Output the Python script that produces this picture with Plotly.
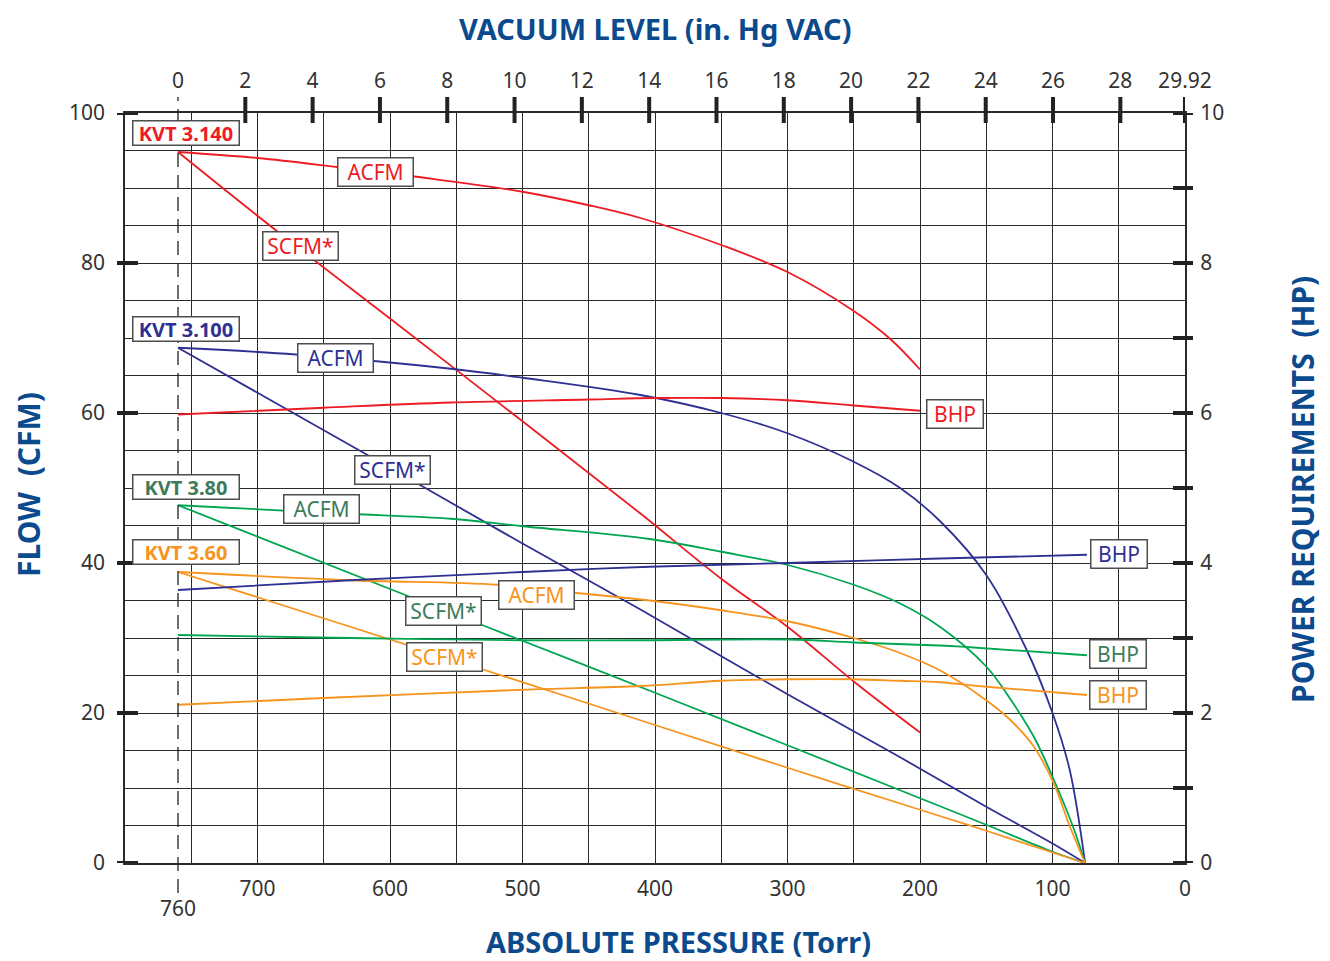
import plotly.graph_objects as go

# ---------------- data (pressure in Torr, flow in CFM, power in HP) ----------------
red_acfm_p = [760, 700, 640, 580, 500, 450, 411, 350, 300, 250, 222, 200]
red_acfm_v = [94.8, 94.0, 92.8, 91.5, 89.5, 87.7, 86.0, 82.4, 78.8, 73.6, 69.8, 65.8]
red_scfm_p = [760, 685, 600, 500, 411, 350, 300, 250, 200]
red_scfm_v = [94.8, 84.2, 72.6, 58.9, 46.6, 37.9, 31.5, 24.2, 17.4]
red_bhp_p = [760, 650, 554, 450, 400, 350, 300, 250, 200]
red_bhp_v = [5.98, 6.07, 6.14, 6.18, 6.20, 6.20, 6.17, 6.10, 6.03]

blue_acfm_p = [760, 671, 554, 500, 411, 350, 300, 250, 215, 185, 150, 120, 100, 87, 75.4]
blue_acfm_v = [68.7, 67.8, 65.9, 64.7, 62.4, 60.0, 57.3, 53.5, 50.0, 45.6, 38.4, 28.6, 20.0, 12.4, 0]
blue_scfm_p = [760, 600, 500, 411, 300, 215, 150, 100, 75.4]
blue_scfm_v = [68.7, 52.7, 42.6, 33.8, 22.5, 14.1, 7.5, 2.6, 0]
blue_bhp_p = [760, 630, 500, 404, 300, 185, 74]
blue_bhp_v = [3.64, 3.77, 3.88, 3.95, 4.00, 4.06, 4.11]

green_acfm_p = [760, 637, 554, 500, 404, 350, 299, 250, 215, 185, 150, 132, 114, 99, 84, 75.4]
green_acfm_v = [47.7, 46.6, 45.9, 44.9, 43.2, 41.5, 39.7, 37.1, 34.6, 31.5, 26.2, 21.9, 16.8, 11.1, 4.6, 0]
green_scfm_p = [760, 588, 530, 400, 300, 215, 150, 100, 75.4]
green_scfm_v = [47.7, 35.7, 31.7, 22.7, 15.7, 9.7, 5.1, 1.5, 0]
green_bhp_p = [760, 630, 500, 411, 299, 250, 185, 165, 74]
green_bhp_v = [3.04, 3.00, 2.97, 2.97, 2.98, 2.94, 2.90, 2.88, 2.77]

orange_acfm_p = [760, 630, 519, 459, 404, 350, 299, 250, 215, 183, 150, 132, 114, 99, 87, 75.4]
orange_acfm_v = [38.8, 37.7, 37.1, 36.0, 35.0, 33.7, 32.2, 30.0, 28.0, 25.5, 21.7, 19.1, 15.5, 10.6, 4.9, 0]
orange_scfm_p = [760, 630, 528, 400, 300, 200, 150, 100, 75.4]
orange_scfm_v = [38.8, 31.5, 25.7, 18.4, 12.7, 7.1, 4.3, 1.4, 0]
orange_bhp_p = [760, 650, 500, 411, 350, 300, 250, 215, 185, 150, 74]
orange_bhp_v = [2.11, 2.20, 2.31, 2.36, 2.43, 2.45, 2.45, 2.43, 2.41, 2.35, 2.24]

bottom_ticks = [700, 600, 500, 400, 300, 200, 100, 0]
vac_ticks = [0, 2, 4, 6, 8, 10, 12, 14, 16, 18, 20, 22, 24, 26, 28, 29.92]
vac_labels = ["0", "2", "4", "6", "8", "10", "12", "14", "16", "18", "20", "22", "24", "26", "28", "29.92"]
flow_ticks = [0, 20, 40, 60, 80, 100]
hp_ticks = [0, 2, 4, 6, 8, 10]

model_labels = [
    ("KVT 3.140", 753.6, 97.3, "#ed1c24"),
    ("KVT 3.100", 753.6, 71.2, "#2e3192"),
    ("KVT 3.80", 753.6, 50.1, "#3e7b5a"),
    ("KVT 3.60", 753.6, 41.5, "#f7941d"),
]
curve_labels = [
    ("ACFM", 611, 92.1, "y", "#ed1c24", 72),
    ("SCFM*", 667.6, 82.3, "y", "#ed1c24", 72),
    ("BHP", 173.5, 5.99, "y2", "#ed1c24", 53),
    ("ACFM", 641, 67.3, "y", "#2e3192", 72),
    ("SCFM*", 598, 52.4, "y", "#2e3192", 72),
    ("BHP", 49.8, 4.12, "y2", "#2e3192", 53),
    ("ACFM", 651.7, 47.2, "y", "#3e7b5a", 72),
    ("SCFM*", 559.7, 33.6, "y", "#3e7b5a", 72),
    ("BHP", 50.5, 2.79, "y2", "#3e7b5a", 53),
    ("ACFM", 489.6, 35.7, "y", "#f7941d", 72),
    ("SCFM*", 559, 27.5, "y", "#f7941d", 72),
    ("BHP", 50.5, 2.24, "y2", "#f7941d", 53),
]

RED, BLUE, GREEN, ORANGE = "#ed1c24", "#2e3192", "#00a651", "#f7941d"
TITLE = "#0b4a8c"
TICKC = "#333333"
GRID = "#2a2a2a"
FONT = "Noto Sans"

fig = go.Figure()

def add(p, v, color, yaxis="y"):
    fig.add_trace(go.Scatter(x=p, y=v, mode="lines", yaxis=yaxis,
                             line=dict(color=color, width=1.8, shape="spline", smoothing=1.0),
                             hoverinfo="skip", showlegend=False))

add(red_acfm_p, red_acfm_v, RED)
add(red_scfm_p, red_scfm_v, RED)
add(red_bhp_p, red_bhp_v, RED, "y2")
add(blue_acfm_p, blue_acfm_v, BLUE)
add(blue_scfm_p, blue_scfm_v, BLUE)
add(blue_bhp_p, blue_bhp_v, BLUE, "y2")
add(green_acfm_p, green_acfm_v, GREEN)
add(green_scfm_p, green_scfm_v, GREEN)
add(green_bhp_p, green_bhp_v, GREEN, "y2")
add(orange_acfm_p, orange_acfm_v, ORANGE)
add(orange_scfm_p, orange_scfm_v, ORANGE)
add(orange_bhp_p, orange_bhp_v, ORANGE, "y2")

fig.add_trace(go.Scatter(x=[800, 0], y=[None, None], xaxis="x2", showlegend=False, hoverinfo="skip"))

vac_pos = [760 - v * 25.4 for v in vac_ticks]
vgrid = list(range(750, -1, -50))
xtext = [str(t) if t in bottom_ticks else "" for t in vgrid]

fig.update_layout(
    width=1322, height=961,
    margin=dict(l=117, r=145, t=105, b=106),
    plot_bgcolor="white", paper_bgcolor="white",
    showlegend=False,
    font=dict(family=FONT, color=TICKC, size=20),
    xaxis=dict(range=[800, 0], tickvals=vgrid, ticktext=xtext,
               showgrid=True, gridcolor=GRID, gridwidth=1.2,
               ticks="outside", ticklen=6, tickcolor="rgba(0,0,0,0)",
               showline=True, linecolor=GRID, linewidth=1.5, mirror=True,
               zeroline=False, tickfont=dict(size=21, color=TICKC)),
    xaxis2=dict(overlaying="x", side="top", range=[800, 0], tickvals=vac_pos, ticktext=vac_labels,
                showgrid=False, ticks="outside", ticklen=16, tickcolor="rgba(0,0,0,0)",
                zeroline=False, tickfont=dict(size=21, color=TICKC)),
    yaxis=dict(range=[0, 100], tickvals=list(range(0, 101, 5)),
               ticktext=[str(t) if t in flow_ticks else "" for t in range(0, 101, 5)],
               showgrid=True, gridcolor=GRID, gridwidth=1.2,
               ticks="outside", ticklen=14, tickcolor="rgba(0,0,0,0)",
               showline=True, linecolor=GRID, linewidth=1.5, mirror=True,
               zeroline=False, tickfont=dict(size=21, color=TICKC)),
    yaxis2=dict(overlaying="y", side="right", range=[0, 10], tickvals=hp_ticks,
                showgrid=False, ticks="outside", ticklen=10, tickcolor="rgba(0,0,0,0)",
                zeroline=False, tickfont=dict(size=21, color=TICKC)),
)

shapes = []
W = 1060.0
H = 750.0
for v in flow_ticks:
    shapes.append(dict(type="line", xref="paper", yref="y", x0=-8 / W, x1=13 / W,
                       y0=v, y1=v, line=dict(color="#222", width=4)))
for h in range(0, 11):
    shapes.append(dict(type="line", xref="paper", yref="y2", x0=(1048) / W, x1=(1068) / W,
                       y0=h, y1=h, line=dict(color="#222", width=4)))
for p, v in zip(vac_pos, vac_ticks):
    if v == 0:
        continue
    shapes.append(dict(type="line", xref="x", yref="paper", x0=p, x1=p,
                       y0=-10 / H + 1, y1=16 / H + 1, line=dict(color="#222", width=4)))
shapes.append(dict(type="line", xref="x", yref="paper", x0=760, x1=760,
                   y0=-30 / H, y1=1 + 16 / H,
                   line=dict(color="#222", width=1.3, dash="14px,8px")))
fig.update_layout(shapes=shapes)

ann = []
for text, p, v, col in model_labels:
    ann.append(dict(x=p, y=v, xref="x", yref="y", xanchor="center", yanchor="middle",
                    text="<b>" + text + "</b>", showarrow=False,
                    font=dict(family=FONT, size=20, color=col), bgcolor="white",
                    bordercolor="#4d4d4d", borderwidth=1.5, borderpad=1, width=103, height=21))
for text, p, v, ax, col, w in curve_labels:
    ann.append(dict(x=p, y=v, xref="x", yref=ax, xanchor="center", yanchor="middle",
                    text=text, showarrow=False,
                    font=dict(family=FONT, size=21, color=col), bgcolor="white",
                    bordercolor="#4d4d4d", borderwidth=1.5, borderpad=1, width=w, height=25))
ann.append(dict(x=760, y=-45 / H, xref="x", yref="paper", xanchor="center", yanchor="middle",
                text="760", showarrow=False, font=dict(family=FONT, size=21, color=TICKC)))
ann.append(dict(x=0.5, y=1 + 84 / H, xref="paper", yref="paper", xanchor="center", yanchor="middle",
                text="<b>VACUUM LEVEL (in. Hg VAC)</b>",
                showarrow=False, font=dict(family=FONT, size=29, color=TITLE)))
ann.append(dict(x=553 / W, y=-78 / H, xref="paper", yref="paper", xanchor="center", yanchor="middle",
                text="<b>ABSOLUTE PRESSURE (Torr)</b>", showarrow=False,
                font=dict(family=FONT, size=29, color=TITLE)))
ann.append(dict(x=-97 / W, y=378 / H, xref="paper", yref="paper", xanchor="center", yanchor="middle",
                text="<b>FLOW  (CFM)</b>", textangle=-90, showarrow=False,
                font=dict(family=FONT, size=30, color=TITLE)))
ann.append(dict(x=1178 / W, y=373 / H, xref="paper", yref="paper", xanchor="center", yanchor="middle",
                text="<b>POWER REQUIREMENTS  (HP)</b>", textangle=-90, showarrow=False,
                font=dict(family=FONT, size=30, color=TITLE)))
fig.update_layout(annotations=ann)

fig.write_html("out.html")
